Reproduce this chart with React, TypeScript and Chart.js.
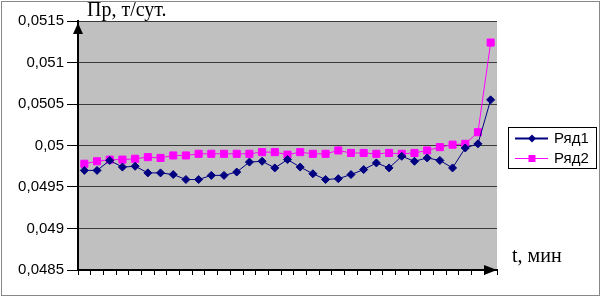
import React, { useEffect, useRef } from 'react';
import { Chart, registerables } from 'chart.js';

Chart.register(...registerables);

const categories = ['1','2','3','4','5','6','7','8','9','10','11','12','13','14','15','16','17','18','19','20','21','22','23','24','25','26','27','28','29','30','31','32','33'];

const series1Name = 'Ряд1';
const series1 = [
  0.04970, 0.04970, 0.04982, 0.04974, 0.04975, 0.04967, 0.04967, 0.04965, 0.04959, 0.04959,
  0.04964, 0.04964, 0.04968, 0.04980, 0.04981, 0.04973, 0.04983, 0.04974, 0.04966, 0.04959,
  0.04960, 0.04965, 0.04971, 0.04979, 0.04973, 0.04987, 0.04981, 0.04985, 0.04982, 0.04973,
  0.04997, 0.05002, 0.05055,
];

const series2Name = 'Ряд2';
const series2 = [
  0.04978, 0.04981, 0.04983, 0.04983, 0.04984, 0.04986, 0.04985, 0.04988, 0.04988, 0.04990,
  0.04990, 0.04990, 0.04990, 0.04990, 0.04992, 0.04992, 0.04989, 0.04992, 0.04990, 0.04990,
  0.04994, 0.04991, 0.04991, 0.04990, 0.04991, 0.04990, 0.04991, 0.04994, 0.04998, 0.05001,
  0.05002, 0.05016, 0.05124,
];

const yMin = 0.0485;
const yMax = 0.0515;
const yStep = 0.0005;

const yTitle = 'Пр, т/сут.';
const xTitle = 't, мин';

const NAVY = '#000080';
const MAGENTA = '#FF00FF';

const decorPlugin = {
  id: 'decor',
  beforeDraw(chart: any) {
    const { ctx, chartArea } = chart;
    ctx.save();
    ctx.fillStyle = '#C0C0C0';
    ctx.fillRect(chartArea.left, chartArea.top, chartArea.right - chartArea.left, chartArea.bottom - chartArea.top);
    ctx.restore();
  },
  afterDraw(chart: any) {
    const { ctx, chartArea } = chart;
    const { left, right, top, bottom } = chartArea;
    ctx.save();
    // outer frame
    ctx.strokeStyle = '#888888';
    ctx.lineWidth = 1;
    ctx.strokeRect(1.5, 1.5, 598, 294);

    // arrows
    ctx.fillStyle = '#000';
    ctx.beginPath();
    ctx.moveTo(left, top + 2);
    ctx.lineTo(left - 5, top + 13);
    ctx.lineTo(left + 5, top + 13);
    ctx.closePath();
    ctx.fill();

    ctx.beginPath();
    ctx.moveTo(right, bottom);
    ctx.lineTo(right - 13, bottom - 5);
    ctx.lineTo(right - 13, bottom + 5);
    ctx.closePath();
    ctx.fill();

    // axis titles
    ctx.fillStyle = '#000';
    ctx.font = '20px "Liberation Serif", "Times New Roman", serif';
    ctx.textBaseline = 'alphabetic';
    ctx.textAlign = 'left';
    ctx.fillText(yTitle, 87, 16);
    ctx.fillText(xTitle, 512, 262);

    // legend
    ctx.strokeStyle = '#000';
    ctx.lineWidth = 1;
    ctx.strokeRect(508.5, 127.5, 88, 41);
    const rows = [
      { y: 138, ds: chart.data.datasets[0] },
      { y: 158, ds: chart.data.datasets[1] },
    ];
    rows.forEach((r, i) => {
      ctx.strokeStyle = r.ds.borderColor;
      ctx.lineWidth = i === 0 ? 2 : 1;
      ctx.beginPath();
      ctx.moveTo(515, r.y + 0.5);
      ctx.lineTo(548, r.y + 0.5);
      ctx.stroke();
      ctx.fillStyle = r.ds.backgroundColor;
      ctx.beginPath();
      if (i === 0) {
        ctx.moveTo(532, r.y + 0.5 - 4);
        ctx.lineTo(536, r.y + 0.5);
        ctx.lineTo(532, r.y + 0.5 + 4);
        ctx.lineTo(528, r.y + 0.5);
        ctx.closePath();
      } else {
        ctx.rect(528.5, r.y - 3, 7, 7);
      }
      ctx.fill();
      ctx.fillStyle = '#000';
      ctx.font = '15px "Liberation Sans", Arial, sans-serif';
      ctx.textBaseline = 'middle';
      ctx.fillText(r.ds.label, 554, r.y + 1);
    });
    ctx.restore();
  },
};

export default function App() {
  const ref = useRef<HTMLCanvasElement | null>(null);

  useEffect(() => {
    if (!ref.current) return;
    const chart = new Chart(ref.current, {
      type: 'line',
      data: {
        labels: categories,
        datasets: [
          {
            label: series1Name,
            data: series1,
            borderColor: NAVY,
            backgroundColor: NAVY,
            borderWidth: 1,
            pointStyle: 'rectRot',
            pointRadius: 4,
            pointBorderWidth: 1,
            tension: 0,
          },
          {
            label: series2Name,
            data: series2,
            borderColor: MAGENTA,
            backgroundColor: MAGENTA,
            borderWidth: 1,
            pointStyle: 'rect',
            pointRadius: 5,
            pointBorderWidth: 1,
            tension: 0,
          },
        ],
      },
      options: {
        responsive: false,
        animation: false,
        events: [],
        layout: { padding: { top: 21, right: 104, left: 0, bottom: 0 } },
        plugins: {
          legend: { display: false },
          tooltip: { enabled: false },
          title: { display: false },
        },
        scales: {
          x: {
            type: 'category',
            offset: true,
            grid: {
              offset: true,
              drawOnChartArea: false,
              drawTicks: true,
              tickLength: 5,
              tickColor: '#000',
            },
            border: { display: true, color: '#000', width: 2 },
            ticks: { display: false, autoSkip: false },
            afterFit: (scale: any) => {
              scale.height = 27;
            },
          },
          y: {
            min: yMin,
            max: yMax,
            grid: {
              color: '#3a3a3a',
              lineWidth: 1,
              tickLength: 11,
              tickColor: '#000',
            },
            border: { display: true, color: '#000', width: 2 },
            ticks: {
              stepSize: yStep,
              padding: 3,
              color: '#000',
              font: { family: '"Liberation Sans", Arial, sans-serif', size: 15 },
              callback: (v: any) => Number(Number(v).toFixed(4)).toString().replace('.', ','),
            },
            afterFit: (scale: any) => {
              scale.width = 78;
            },
          },
        },
      },
      plugins: [decorPlugin],
    });
    return () => chart.destroy();
  }, []);

  return (
    <div style={{ position: 'absolute', left: 0, top: 0, width: 601, height: 297 }}>
      <canvas ref={ref} width={601} height={297} style={{ display: 'block', width: 601, height: 297 }} />
    </div>
  );
}
